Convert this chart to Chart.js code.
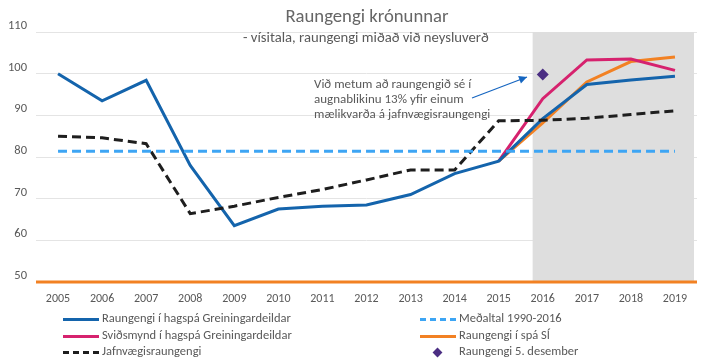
<!DOCTYPE html>
<html>
<head>
<meta charset="utf-8">
<script src="https://cdn.jsdelivr.net/npm/chart.js@4/dist/chart.umd.min.js"></script>
<style>
  html, body { margin:0; padding:0; background:#fff; }
  #wrap { position:relative; width:720px; height:360px; font-family:Calibri, Carlito, "Liberation Sans", "Open Sans", sans-serif; color:#595959; }
  canvas { position:absolute; left:0; top:0; }
  .t { position:absolute; white-space:nowrap; }
  #title { left:0; width:734px; text-align:center; top:4px; font-size:18.7px; color:#666; }
  #sub { left:243px; top:28px; font-size:14.7px; color:#595959; }
  #note { left:314px; top:76px; font-size:13px; line-height:15px; color:#595959; }
  .lg { position:absolute; font-size:12.5px; color:#595959; white-space:nowrap; }
  .sw { position:absolute; }
</style>
</head>
<body>
<div id="wrap">
  <canvas id="c" width="720" height="360"></canvas>
  <div class="t" id="title">Raungengi krónunnar</div>
  <div class="t" id="sub">- vísitala, raungengi miðað við neysluverð</div>
  <div class="t" id="note">Við metum að raungengið sé í<br>augnablikinu 13% yfir einum<br>mælikvarða á jafnvægisraungengi</div>
  <div id="legend"></div>
</div>
<script>
const years = ["2005","2006","2007","2008","2009","2010","2011","2012","2013","2014","2015","2016","2017","2018","2019"];
const yTicks = [50,60,70,80,90,100,110];
const hagspa = [100,93.5,98.4,78,63.5,67.5,68.2,68.5,71,76,79,89.2,97.4,98.5,99.4];
const svidsmynd = [null,null,null,null,null,null,null,null,null,null,79,94,103.3,103.5,100.8];
const jafnvaegi = [85,84.6,83.2,66.4,68.2,70.3,72.2,74.5,76.9,76.9,88.7,88.8,89.3,90.2,91.1];
const medaltal = [81.4,81.4,81.4,81.4,81.4,81.4,81.4,81.4,81.4,81.4,81.4,81.4,81.4,81.4,81.4];
const spaSI = [null,null,null,null,null,null,null,null,null,null,79,88.2,98,102.9,104];
const desember = [null,null,null,null,null,null,null,null,null,null,null,99.8,null,null,null];
const shadeFrom = 10.77; // category position where forecast shading begins

const names = {
  hagspa: "Raungengi í hagspá Greiningardeildar",
  svids: "Sviðsmynd í hagspá Greiningardeildar",
  jafn: "Jafnvægisraungengi",
  med: "Meðaltal 1990-2016",
  si: "Raungengi í spá SÍ",
  des: "Raungengi 5. desember"
};
const C = { blue:"#1464AC", pink:"#D6226E", black:"#1E1E1E", lblue:"#3DA5F4", orange:"#F28123", purple:"#4B2E83" };

const shadePlugin = {
  id:"shade",
  beforeDatasetsDraw(chart){
    const {ctx, chartArea:a, scales:{x,y}} = chart;
    const p0 = x.getPixelForValue(10), p1 = x.getPixelForValue(11);
    const left = p0 + (p1-p0)*(shadeFrom-10);
    ctx.save();
    ctx.fillStyle = "#DEDEDE";
    ctx.fillRect(left, y.getPixelForValue(110), a.right - 3 - left, y.getPixelForValue(50) - y.getPixelForValue(110));
    ctx.restore();
  },
  afterDraw(chart){
    const {ctx} = chart;
    const x0=472, y0=98, x1=527, y1=77;
    ctx.save();
    ctx.strokeStyle="#1565C0"; ctx.fillStyle="#1565C0"; ctx.lineWidth=1.2;
    ctx.beginPath(); ctx.moveTo(x0,y0); ctx.lineTo(x1,y1); ctx.stroke();
    const ang=Math.atan2(y1-y0,x1-x0);
    ctx.beginPath();
    ctx.moveTo(x1,y1);
    ctx.lineTo(x1-8*Math.cos(ang)+4*Math.sin(ang), y1-8*Math.sin(ang)-4*Math.cos(ang));
    ctx.lineTo(x1-8*Math.cos(ang)-4*Math.sin(ang), y1-8*Math.sin(ang)+4*Math.cos(ang));
    ctx.closePath(); ctx.fill();
    const a = chart.chartArea, yb = chart.scales.y.getPixelForValue(50);
    ctx.strokeStyle=C.orange; ctx.lineWidth=3;
    ctx.beginPath(); ctx.moveTo(a.left, yb); ctx.lineTo(a.right, yb); ctx.stroke();
    ctx.restore();
  }
};

const line = (label, data, color, dash, width) => ({
  type:"line", label, data, borderColor:color, backgroundColor:color,
  borderWidth:width||3, borderDash:dash||[], pointRadius:0, tension:0, spanGaps:false
});

new Chart(document.getElementById("c"), {
  type:"line",
  data:{
    labels: years,
    datasets:[
      line(names.med, medaltal, C.lblue, [9,5], 3),
      line(names.jafn, jafnvaegi, C.black, [9,5], 3),
      line(names.hagspa, hagspa, C.blue, [], 3),
      line(names.svids, svidsmynd, C.pink, [], 3),
      line(names.si, spaSI, C.orange, [], 3),
      { type:"line", label:names.des, data:desember, showLine:false, pointStyle:"rectRot", pointRadius:6, pointHoverRadius:6,
        backgroundColor:C.purple, borderColor:C.purple, borderWidth:0 }
    ]
  },
  options:{
    responsive:false, animation:false, devicePixelRatio:1,
    layout:{ padding:{ left:0, right:23, top:32, bottom:0 } },
    plugins:{ legend:{display:false}, tooltip:{enabled:false}, title:{display:false} },
    scales:{
      x:{
        offset:true,
        grid:{ display:false, drawTicks:false },
        border:{ display:false },
        ticks:{ color:"#595959", font:{ size:12, family:"Calibri, Carlito, 'Liberation Sans', sans-serif" }, padding:10, maxRotation:0 },
        afterFit(s){ s.height = 78; }
      },
      y:{
        min:50, max:110,
        afterBuildTicks(s){ s.ticks = yTicks.map(v=>({value:v})); },
        grid:{ color:"#E4E4E4", lineWidth:1, drawTicks:false },
        border:{ display:false },
        ticks:{ color:"#595959", font:{ size:12.5, family:"Calibri, Carlito, 'Liberation Sans', sans-serif" }, padding:9, align:"end" },
        afterFit(s){ s.width = 36; }
      }
    }
  },
  plugins:[shadePlugin]
});

const leg = [
  {n:names.hagspa, c:C.blue, t:"solid", x:63, y:319},
  {n:names.svids, c:C.pink, t:"solid", x:63, y:336},
  {n:names.jafn, c:C.black, t:"dash", x:63, y:352},
  {n:names.med, c:C.lblue, t:"dash", x:420, y:319},
  {n:names.si, c:C.orange, t:"solid", x:420, y:336},
  {n:names.des, c:C.purple, t:"diamond", x:420, y:352}
];
const L = document.getElementById("legend");
leg.forEach(e=>{
  const s = document.createElement("div"); s.className="sw";
  if(e.t==="solid"){ s.style.cssText=`left:${e.x}px;top:${e.y-1.5}px;width:36px;height:3px;background:${e.c}`; }
  else if(e.t==="dash"){ s.style.cssText=`left:${e.x}px;top:${e.y-1.5}px;width:36px;height:0;border-top:3px dashed ${e.c}`; }
  else { s.style.cssText=`left:${e.x+14}px;top:${e.y-3.5}px;width:7px;height:7px;background:${e.c};transform:rotate(45deg)`; }
  L.appendChild(s);
  const t = document.createElement("div"); t.className="lg";
  t.style.left=(e.x+39)+"px"; t.style.top=(e.y-9)+"px"; t.textContent=e.n;
  L.appendChild(t);
});
</script>
</body>
</html>
